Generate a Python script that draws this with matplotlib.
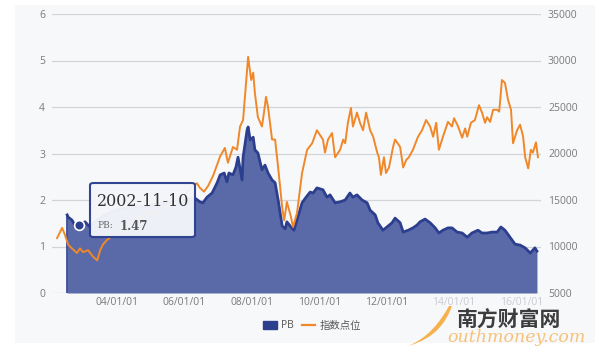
import matplotlib
matplotlib.use("Agg")
import matplotlib.pyplot as plt
from matplotlib.patches import FancyBboxPatch, Rectangle, PathPatch, Patch
from matplotlib.lines import Line2D
from matplotlib.path import Path

# =========================================
# DATA
# =========================================
# 指数点位 (right axis)
idx_t = [2002.22, 2002.37, 2002.46, 2002.55, 2002.66, 2002.81, 2002.90, 2002.99,
         2003.14, 2003.29, 2003.41, 2003.50, 2003.58, 2003.70, 2003.85, 2004.03,
         2004.24, 2004.45, 2004.68, 2004.92, 2005.16, 2005.39, 2005.63, 2005.87,
         2006.11, 2006.26, 2006.37, 2006.46, 2006.58, 2006.70, 2006.85, 2007.06,
         2007.20, 2007.29, 2007.44, 2007.56, 2007.65, 2007.74, 2007.83, 2007.89,
         2007.98, 2008.04, 2008.09, 2008.18, 2008.30, 2008.36, 2008.42, 2008.48,
         2008.60, 2008.69, 2008.78, 2008.90, 2008.96, 2009.04, 2009.16, 2009.22,
         2009.34, 2009.49, 2009.64, 2009.79, 2009.93, 2010.02, 2010.11, 2010.17,
         2010.26, 2010.38, 2010.47, 2010.62, 2010.71, 2010.77, 2010.85, 2010.94,
         2011.00, 2011.12, 2011.21, 2011.30, 2011.39, 2011.51, 2011.60, 2011.72,
         2011.77, 2011.83, 2011.92, 2011.98, 2012.07, 2012.19, 2012.25, 2012.40,
         2012.49, 2012.58, 2012.66, 2012.78, 2012.93, 2013.05, 2013.17, 2013.29,
         2013.38, 2013.47, 2013.55, 2013.67, 2013.82, 2013.94, 2014.00, 2014.12,
         2014.24, 2014.33, 2014.39, 2014.50, 2014.62, 2014.74, 2014.83, 2014.92,
         2014.98, 2015.07, 2015.16, 2015.28, 2015.34, 2015.42, 2015.51, 2015.60,
         2015.69, 2015.75, 2015.87, 2015.96, 2016.05, 2016.11, 2016.20, 2016.28,
         2016.34, 2016.43, 2016.49]
idx_v = [10900, 12000, 11200, 10200, 9800, 9300, 9800, 9400,
         9600, 8900, 8500, 9600, 10200, 10700, 11100, 11800,
         12000, 12600, 13100, 13700, 13500, 14200, 14500, 15100,
         15900, 16600, 16800, 16300, 15900, 16500, 17600, 19700,
         20600, 19000, 20700, 20400, 22900, 23600, 27600, 30400,
         27900, 28700, 26500, 23900, 22900, 24400, 26100, 25000,
         21500, 21500, 18500, 14200, 12800, 14800, 13200, 12100,
         13600, 17900, 20400, 21100, 22500, 22000, 21500, 20100,
         21500, 22200, 19600, 20400, 21500, 21100, 23300, 24900,
         22900, 24400, 23300, 22500, 24400, 22500, 21800, 20100,
         19600, 17700, 19600, 17900, 18500, 20700, 21500, 20700,
         18500, 19300, 19600, 20400, 21800, 22500, 23600, 22900,
         21800, 23300, 20400, 21800, 23400, 22900, 23800, 22900,
         21700, 22700, 21800, 23300, 23600, 25200, 24400, 23300,
         23900, 23400, 24700, 24700, 24500, 27900, 27600, 25800,
         24700, 21100, 22500, 23100, 21800, 19600, 18400, 20400,
         20100, 21200, 19600]

# PB (left axis)
pb_t = [2002.52, 2002.55, 2002.66, 2002.75, 2002.84, 2002.86, 2003.05, 2003.14,
        2003.20, 2003.35, 2003.64, 2003.94, 2004.24, 2004.53, 2004.83, 2005.13,
        2005.42, 2005.72, 2006.02, 2006.31, 2006.46, 2006.55, 2006.67, 2006.82,
        2006.97, 2007.06, 2007.18, 2007.26, 2007.32, 2007.44, 2007.53, 2007.59,
        2007.71, 2007.74, 2007.86, 2007.89, 2007.95, 2008.04, 2008.09, 2008.18,
        2008.30, 2008.39, 2008.48, 2008.60, 2008.69, 2008.78, 2008.90, 2008.99,
        2009.04, 2009.16, 2009.25, 2009.34, 2009.49, 2009.61, 2009.73, 2009.82,
        2009.93, 2010.02, 2010.11, 2010.23, 2010.32, 2010.47, 2010.62, 2010.77,
        2010.91, 2011.00, 2011.12, 2011.27, 2011.42, 2011.51, 2011.66, 2011.74,
        2011.89, 2012.01, 2012.16, 2012.25, 2012.40, 2012.49, 2012.64, 2012.78,
        2012.90, 2012.99, 2013.14, 2013.29, 2013.44, 2013.55, 2013.67, 2013.82,
        2013.94, 2014.09, 2014.24, 2014.39, 2014.53, 2014.71, 2014.83, 2014.98,
        2015.13, 2015.28, 2015.39, 2015.51, 2015.66, 2015.81, 2015.96, 2016.11,
        2016.26, 2016.40, 2016.46]
pb_v = [1.68, 1.63, 1.57, 1.46, 1.42, 1.47, 1.53, 1.46,
        1.42, 1.53, 1.68, 1.78, 1.83, 1.87, 1.85, 1.91,
        1.94, 1.96, 2.00, 2.04, 1.96, 1.94, 2.06, 2.15,
        2.37, 2.54, 2.58, 2.39, 2.58, 2.54, 2.71, 2.92,
        2.43, 2.92, 3.51, 3.57, 3.29, 3.35, 3.08, 3.01,
        2.65, 2.75, 2.58, 2.43, 2.37, 2.00, 1.44, 1.38,
        1.53, 1.42, 1.35, 1.57, 1.94, 2.06, 2.17, 2.15,
        2.26, 2.24, 2.22, 2.06, 2.11, 1.94, 1.96, 2.00,
        2.15, 2.06, 2.11, 2.00, 1.94, 1.78, 1.68, 1.51,
        1.35, 1.42, 1.51, 1.61, 1.51, 1.31, 1.35, 1.40,
        1.46, 1.53, 1.59, 1.51, 1.40, 1.29, 1.35, 1.40,
        1.40, 1.31, 1.29, 1.20, 1.29, 1.35, 1.29, 1.29,
        1.31, 1.31, 1.42, 1.35, 1.20, 1.05, 1.03, 0.97,
        0.86, 0.97, 0.90]

x_ticks = [2004, 2006, 2008, 2010, 2012, 2014, 2016]
x_labels = ["04/01/01", "06/01/01", "08/01/01", "10/01/01",
            "12/01/01", "14/01/01", "16/01/01"]
left_ticks = [0, 1, 2, 3, 4, 5, 6]
right_ticks = [5000, 10000, 15000, 20000, 25000, 30000, 35000]

tip_date = "2002-11-10"
tip_t = 2002.86
tip_pb = 1.47

# =========================================
# STYLE
# =========================================
W, H = 600, 360
BLUE_LINE = "#2c3f8e"
BLUE_FILL = "#5a6aa9"
ORANGE = "#f0882a"
GRAY = "#7a7a7a"

plt.rcParams["font.family"] = ["Open Sans", "Noto Sans CJK SC", "DejaVu Sans"]


def fx(x):
    return x / W


def fy(y):
    return 1 - y / H


fig = plt.figure(figsize=(6, 3.6), dpi=100)
fig.patch.set_facecolor("white")

# light panel behind the chart
fig.patches.append(Rectangle((fx(15), fy(343)), fx(580), 338 / H,
                             transform=fig.transFigure, facecolor="#f7f8fa",
                             edgecolor="none", zorder=-10))

ax = fig.add_axes([fx(52), fy(293), fx(541 - 52), (293 - 14) / H])
ax.set_facecolor("none")
ax2 = ax.twinx()

# PB area
ax.fill_between(pb_t, 0, pb_v, color=BLUE_FILL, lw=0, zorder=2)
ax.plot(pb_t, pb_v, color=BLUE_LINE, lw=2.0, zorder=3)
ax.plot([pb_t[0], pb_t[0]], [0, pb_v[0]], color=BLUE_LINE, lw=1.2, zorder=3)

# index line
ax2.plot(idx_t, idx_v, color=ORANGE, lw=1.4, zorder=3)

ax.set_xlim(2002.07, 2016.58)
ax.set_ylim(0, 6)
ax2.set_ylim(5000, 35000)

ax.set_xticks(x_ticks)
ax.set_xticklabels(x_labels)
ax.set_yticks(left_ticks)
ax2.set_yticks(right_ticks)

ax.grid(axis="y", color="#d2d4d8", lw=0.9, zorder=0)
ax.grid(axis="x", visible=False)
for a in (ax, ax2):
    for s in a.spines.values():
        s.set_visible(False)
ax.tick_params(axis="both", length=0, colors=GRAY, labelsize=7.5)
ax.tick_params(axis="y", pad=5)
ax.tick_params(axis="x", pad=3)
ax2.tick_params(axis="y", length=0, colors=GRAY, labelsize=7.5, pad=5)
# the last two dates sit under the watermark and look faded
for lab in ax.get_xticklabels()[-2:]:
    lab.set_color("#c9cbd0")

# tooltip point
ax.plot([tip_t], [tip_pb], marker="o", ms=7, mfc=BLUE_LINE, mec="white",
        mew=1.2, zorder=6)

# tooltip box
fig.patches.append(FancyBboxPatch((fx(90), fy(237)), fx(105), 54 / H,
                                  boxstyle="round,pad=0,rounding_size=0.006",
                                  transform=fig.transFigure,
                                  facecolor="#f3f5f9", edgecolor=BLUE_LINE,
                                  lw=1.5, alpha=0.97, zorder=5))
fig.text(fx(97), fy(201), tip_date, family="DejaVu Serif", fontsize=11.5,
         color="#333333", va="center", ha="left", zorder=6)
fig.text(fx(97), fy(226), "PB:", family="DejaVu Serif", fontsize=6.5,
         color="#666666", va="center", ha="left", zorder=6)
fig.text(fx(120), fy(226), f"{tip_pb:.2f}", family="DejaVu Serif",
         fontsize=8.5, fontweight="bold", color="#555555", va="center",
         ha="left", zorder=6)

# legend
handles = [Patch(facecolor=BLUE_LINE, edgecolor=BLUE_LINE, label="PB"),
           Line2D([0], [0], color=ORANGE, lw=1.6, label="指数点位")]
leg = fig.legend(handles=handles, loc="center", bbox_to_anchor=(fx(312), fy(326)),
                 ncol=2, frameon=False, fontsize=7.5, handlelength=1.3,
                 handleheight=0.9, columnspacing=0.8, handletextpad=0.4)
for t in leg.get_texts():
    t.set_color("#555555")

# watermark
verts = [(fx(408), fy(346)), (fx(428), fy(338)), (fx(440), fy(322)), (fx(449), fy(306)),
         (fx(452), fy(306)), (fx(446), fy(322)), (fx(436), fy(338)), (fx(408), fy(346))]
codes = [Path.MOVETO, Path.CURVE4, Path.CURVE4, Path.CURVE4,
         Path.LINETO, Path.CURVE4, Path.CURVE4, Path.CURVE4]
fig.patches.append(PathPatch(Path(verts, codes), transform=fig.transFigure,
                             facecolor="#f5b24c", edgecolor="none", zorder=7))
fig.text(fx(457), fy(320), "南方财富网", family=["Noto Sans CJK SC"], fontsize=15,
         fontweight="bold", color="#3d3d3d", va="center", ha="left", zorder=7)
fig.text(fx(447), fy(337), "outhmoney.com", family="DejaVu Serif", style="italic",
         fontsize=12.5, color="#f6c27a", va="center", ha="left", zorder=7)

fig.savefig("out.png", dpi=100)
